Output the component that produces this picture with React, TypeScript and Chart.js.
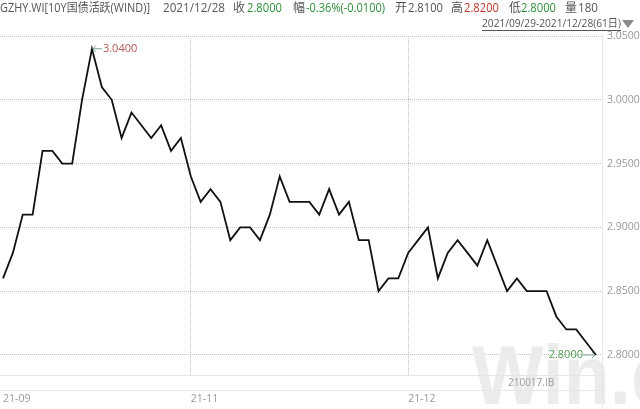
import React, { useEffect, useRef } from 'react';
import { Chart, registerables } from 'chart.js';

Chart.register(...registerables);

// 61 trading days, 2021/09/29 - 2021/12/28 (index positions)
const closeValues: number[] = [
  2.86, 2.88, 2.91, 2.91, 2.96, 2.96, 2.95, 2.95,
  3.00, 3.04, 3.01, 3.00, 2.97, 2.99, 2.98, 2.97, 2.98, 2.96, 2.97,
  2.94, 2.92, 2.93, 2.92, 2.89, 2.90, 2.90, 2.89, 2.91, 2.94, 2.92,
  2.92, 2.92, 2.91, 2.93, 2.91, 2.92, 2.89, 2.89, 2.85, 2.86, 2.86,
  2.88, 2.89, 2.90, 2.86, 2.88, 2.89, 2.88, 2.87, 2.89, 2.87,
  2.85, 2.86, 2.85, 2.85, 2.85, 2.83, 2.82, 2.82, 2.81, 2.80,
];

const monthTickIndex: number[] = [0, 19, 41];
const monthTickLabels: string[] = ['21-09', '21-11', '21-12'];
const yTickValues: number[] = [2.8, 2.85, 2.9, 2.95, 3.0, 3.05];

const FONT = "'Open Sans', 'Noto Sans CJK SC', sans-serif";
const GRAY = '#555555';
const GREEN = '#2f8f3a';
const RED = '#c0392b';

// [text, color, left x, max width]
const headerSegments: [string, string, number, number][] = [
  ['GZHY.WI[10Y国债活跃(WIND)]', GRAY, 0, 150],
  ['2021/12/28', GRAY, 163, 62],
  ['收', GRAY, 233, 12],
  ['2.8000', GREEN, 247, 35],
  ['幅', GRAY, 293, 12],
  ['-0.36%(-0.0100)', GREEN, 306, 79],
  ['开', GRAY, 395, 12],
  ['2.8100', GRAY, 408, 35],
  ['高', GRAY, 451, 12],
  ['2.8200', RED, 464, 35],
  ['低', GRAY, 509, 12],
  ['2.8000', GREEN, 521, 35],
  ['量', GRAY, 565, 12],
  ['180', GRAY, 578, 20],
];
const rangeText = '2021/09/29-2021/12/28(61日)';
const codeText = '210017.IB';

const extras = {
  id: 'extras',
  beforeDatasetsDraw(chart: any) {
    const ctx = chart.ctx as CanvasRenderingContext2D;
    ctx.save();
    ctx.fillStyle = '#ececec';
    ctx.font = "bold 84px 'Liberation Sans', Arial, sans-serif";
    ctx.textBaseline = 'alphabetic';
    ctx.translate(472, 404);
    ctx.scale(0.9, 1);
    ctx.fillText('Win.d', 0, 0);
    ctx.restore();
  },
  afterDraw(chart: any) {
    const ctx = chart.ctx as CanvasRenderingContext2D;
    const area = chart.chartArea;
    const xs = chart.scales.x;
    const ys = chart.scales.y;
    ctx.save();
    // header
    ctx.font = `12px ${FONT}`;
    ctx.textBaseline = 'middle';
    ctx.textAlign = 'left';
    headerSegments.forEach(([t, c, x, mw]) => {
      ctx.fillStyle = c;
      ctx.fillText(t, x, 9, mw);
    });
    // date range (underlined)
    ctx.font = `11.5px ${FONT}`;
    ctx.fillStyle = GRAY;
    const rx = 482;
    const rw = Math.min(ctx.measureText(rangeText).width, 139);
    ctx.fillText(rangeText, rx, 24, 139);
    ctx.strokeStyle = GRAY;
    ctx.lineWidth = 1;
    ctx.beginPath();
    ctx.moveTo(rx, 30.5);
    ctx.lineTo(rx + rw, 30.5);
    ctx.stroke();
    // triangle
    ctx.fillStyle = '#8a8a8a';
    ctx.beginPath();
    ctx.moveTo(622, 20);
    ctx.lineTo(634, 20);
    ctx.lineTo(628, 28);
    ctx.closePath();
    ctx.fill();

    // frame lines
    ctx.strokeStyle = '#e6e6e6';
    ctx.lineWidth = 1;
    ctx.beginPath();
    ctx.moveTo(0, Math.round(area.bottom) + 0.5);
    ctx.lineTo(area.right, Math.round(area.bottom) + 0.5);
    ctx.moveTo(0, 390.5);
    ctx.lineTo(area.right, 390.5);
    ctx.moveTo(Math.round(area.right) + 0.5, 34);
    ctx.lineTo(Math.round(area.right) + 0.5, 409);
    ctx.stroke();

    // code text
    ctx.font = `10px ${FONT}`;
    ctx.textAlign = 'left';
    ctx.fillStyle = '#9a9a9a';
    ctx.fillText(codeText, 508, 383);

    // max annotation
    let maxI = 0;
    closeValues.forEach((v, i) => { if (v > closeValues[maxI]) maxI = i; });
    const mx = xs.getPixelForValue(maxI);
    const my = ys.getPixelForValue(closeValues[maxI]);
    ctx.strokeStyle = '#7f9f9c';
    ctx.lineWidth = 1;
    ctx.beginPath();
    ctx.moveTo(mx + 1, my);
    ctx.lineTo(mx + 10, my);
    ctx.moveTo(mx + 4, my - 3);
    ctx.lineTo(mx + 1, my);
    ctx.lineTo(mx + 4, my + 3);
    ctx.stroke();
    ctx.font = `11px ${FONT}`;
    ctx.fillStyle = '#b05656';
    ctx.textBaseline = 'middle';
    ctx.fillText(closeValues[maxI].toFixed(4), mx + 11, my);

    // last value annotation
    const li = closeValues.length - 1;
    const lx = xs.getPixelForValue(li);
    const ly = ys.getPixelForValue(closeValues[li]);
    ctx.beginPath();
    ctx.moveTo(lx - 13, ly);
    ctx.lineTo(lx - 1, ly);
    ctx.moveTo(lx - 4, ly - 3);
    ctx.lineTo(lx - 1, ly);
    ctx.lineTo(lx - 4, ly + 3);
    ctx.stroke();
    ctx.fillStyle = '#4e9a50';
    ctx.textAlign = 'right';
    ctx.fillText(closeValues[li].toFixed(4), lx - 13, ly);
    ctx.restore();
  },
};

export default function App() {
  const ref = useRef<HTMLCanvasElement | null>(null);
  useEffect(() => {
    document.body.style.margin = '0';
    const canvas = ref.current;
    if (!canvas) return;
    const chart = new Chart(canvas, {
      type: 'line',
      data: {
        datasets: [
          {
            data: closeValues.map((v, i) => ({ x: i, y: v })),
            borderColor: '#111111',
            borderWidth: 1.8,
            pointRadius: 0,
            tension: 0,
            fill: false,
          },
        ],
      },
      options: {
        animation: false,
        responsive: false,
        devicePixelRatio: 1,
        layout: { padding: { top: 36, left: 0, right: 0, bottom: 0 } },
        plugins: { legend: { display: false }, tooltip: { enabled: false } },
        scales: {
          x: {
            type: 'linear',
            min: -0.3035,
            max: 60.61,
            afterBuildTicks: (s: any) => {
              s.ticks = monthTickIndex.map((v) => ({ value: v }));
            },
            afterFit: (s: any) => {
              s.height = 34;
              s.paddingLeft = 0;
              s.paddingRight = 0;
            },
            ticks: {
              autoSkip: false,
              maxRotation: 0,
              align: 'start',
              padding: 18,
              color: '#999999',
              font: { size: 10.5, family: FONT },
              callback: (v: any) => monthTickLabels[monthTickIndex.indexOf(Number(v))] ?? '',
            },
            grid: {
              drawTicks: false,
              lineWidth: 1,
              color: (c: any) => (c.tick && c.tick.value === 0 ? 'rgba(0,0,0,0)' : '#c4c4c4'),
            },
            border: { display: false, dash: [1, 1] },
          },
          y: {
            position: 'right',
            min: 2.7843,
            max: 3.05,
            afterBuildTicks: (s: any) => {
              s.ticks = yTickValues.map((v) => ({ value: v }));
            },
            afterFit: (s: any) => {
              s.width = 38;
              s.paddingTop = 0;
              s.paddingBottom = 0;
            },
            ticks: {
              padding: 5,
              color: '#999999',
              font: { size: 10.5, family: FONT },
              callback: (v: any) => Number(v).toFixed(4),
            },
            grid: { drawTicks: false, lineWidth: 1, color: '#c4c4c4' },
            border: { display: false, dash: [1, 1] },
          },
        },
      },
      plugins: [extras],
    });
    return () => chart.destroy();
  }, []);
  return (
    <div style={{ width: 640, height: 409, position: 'relative', background: '#fff' }}>
      <canvas ref={ref} width={640} height={409} style={{ width: 640, height: 409, display: 'block' }} />
    </div>
  );
}
